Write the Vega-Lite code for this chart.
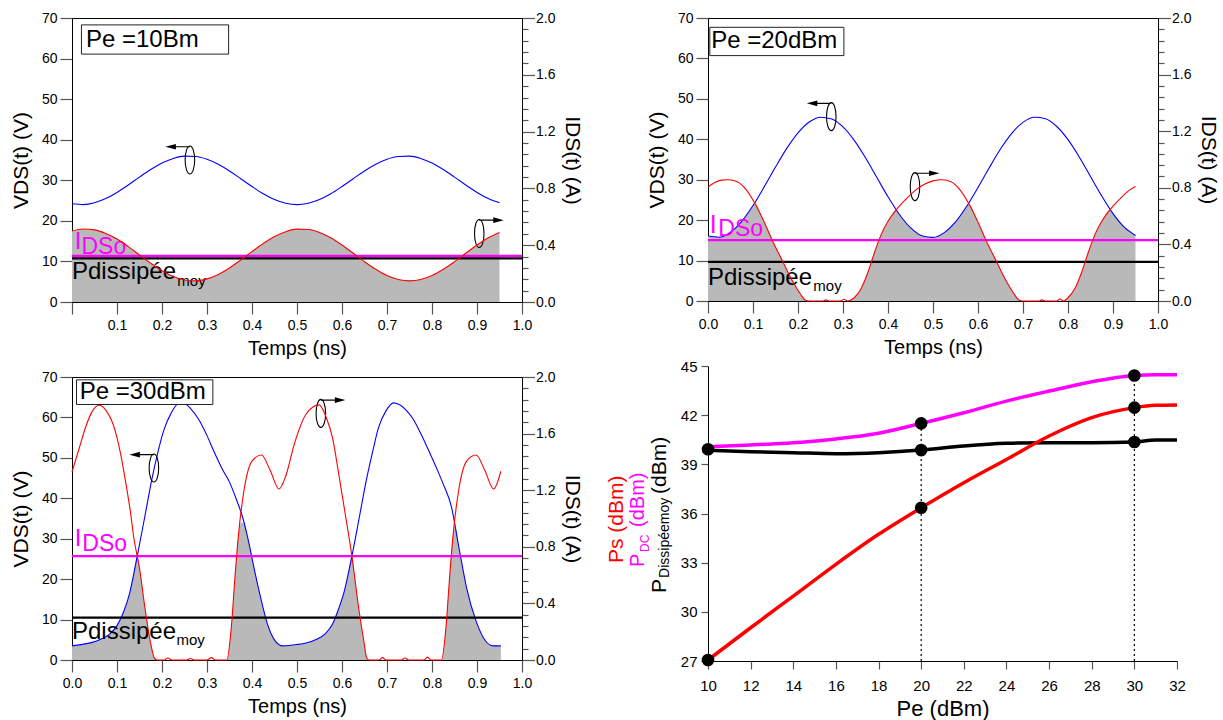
{
"$schema": "https://vega.github.io/schema/vega-lite/v6.json",
"background": "white",
"padding": {"left": 9, "top": 10, "right": 5, "bottom": 5},
"config": {
  "font": "Liberation Sans",
  "view": {"stroke": "black", "strokeWidth": 1},
  "axis": {"grid": false, "domainColor": "black", "domainWidth": 1, "tickColor": "#555", "tickWidth": 1.2, "labelFont": "Liberation Sans", "labelFontSize": 14, "labelColor": "black", "titleFont": "Liberation Sans", "titleFontSize": 21, "titleFontWeight": "normal", "titleColor": "black", "labelFlush": false, "labelOverlap": false, "labelBound": false},
  "text": {"font": "Liberation Sans"}
},
"datasets": {
"p1v": [{"t":0,"v":24.2},{"t":0.025,"v":24.01},{"t":0.05,"v":24.46},{"t":0.075,"v":25.49},{"t":0.1,"v":27.0},{"t":0.125,"v":28.83},{"t":0.15,"v":30.78},{"t":0.175,"v":32.65},{"t":0.2,"v":34.24},{"t":0.225,"v":35.38},{"t":0.25,"v":35.95},{"t":0.275,"v":35.88},{"t":0.3,"v":35.2},{"t":0.325,"v":33.95},{"t":0.35,"v":32.3},{"t":0.375,"v":30.39},{"t":0.4,"v":28.45},{"t":0.425,"v":26.66},{"t":0.45,"v":25.24},{"t":0.475,"v":24.32},{"t":0.5,"v":24.0},{"t":0.525,"v":24.32},{"t":0.55,"v":25.24},{"t":0.575,"v":26.66},{"t":0.6,"v":28.45},{"t":0.625,"v":30.39},{"t":0.65,"v":32.3},{"t":0.675,"v":33.95},{"t":0.7,"v":35.2},{"t":0.725,"v":35.88},{"t":0.75,"v":35.95},{"t":0.775,"v":35.38},{"t":0.8,"v":34.24},{"t":0.825,"v":32.65},{"t":0.85,"v":30.78},{"t":0.875,"v":28.83},{"t":0.9,"v":27.0},{"t":0.925,"v":25.49},{"t":0.95,"v":24.46}],
"p1i": [{"t":0,"i":0.5},{"t":0.025,"i":0.514},{"t":0.05,"i":0.508},{"t":0.075,"i":0.483},{"t":0.1,"i":0.443},{"t":0.125,"i":0.39},{"t":0.15,"i":0.331},{"t":0.175,"i":0.273},{"t":0.2,"i":0.22},{"t":0.225,"i":0.179},{"t":0.25,"i":0.155},{"t":0.275,"i":0.149},{"t":0.3,"i":0.163},{"t":0.325,"i":0.194},{"t":0.35,"i":0.24},{"t":0.375,"i":0.296},{"t":0.4,"i":0.355},{"t":0.425,"i":0.412},{"t":0.45,"i":0.461},{"t":0.475,"i":0.495},{"t":0.5,"i":0.513},{"t":0.525,"i":0.511},{"t":0.55,"i":0.49},{"t":0.575,"i":0.452},{"t":0.6,"i":0.401},{"t":0.625,"i":0.343},{"t":0.65,"i":0.284},{"t":0.675,"i":0.23},{"t":0.7,"i":0.186},{"t":0.725,"i":0.158},{"t":0.75,"i":0.149},{"t":0.775,"i":0.158},{"t":0.8,"i":0.186},{"t":0.825,"i":0.23},{"t":0.85,"i":0.284},{"t":0.875,"i":0.343},{"t":0.9,"i":0.401},{"t":0.925,"i":0.452},{"t":0.95,"i":0.49}],
"p1g": [{"t":0,"g":17.51},{"t":0.025,"g":17.99},{"t":0.05,"g":17.78},{"t":0.075,"g":16.92},{"t":0.1,"g":15.5},{"t":0.125,"g":13.66},{"t":0.15,"g":11.6},{"t":0.175,"g":9.54},{"t":0.2,"g":7.7},{"t":0.225,"g":6.28},{"t":0.25,"g":5.42},{"t":0.275,"g":5.21},{"t":0.3,"g":5.69},{"t":0.325,"g":6.79},{"t":0.35,"g":8.4},{"t":0.375,"g":10.35},{"t":0.4,"g":12.44},{"t":0.425,"g":14.43},{"t":0.45,"g":16.12},{"t":0.475,"g":17.34},{"t":0.5,"g":17.94},{"t":0.525,"g":17.88},{"t":0.55,"g":17.14},{"t":0.575,"g":15.82},{"t":0.6,"g":14.05},{"t":0.625,"g":12.02},{"t":0.65,"g":9.94},{"t":0.675,"g":8.04},{"t":0.7,"g":6.52},{"t":0.725,"g":5.54},{"t":0.75,"g":5.2},{"t":0.775,"g":5.54},{"t":0.8,"g":6.52},{"t":0.825,"g":8.04},{"t":0.85,"g":9.94},{"t":0.875,"g":12.02},{"t":0.9,"g":14.05},{"t":0.925,"g":15.82},{"t":0.95,"g":17.14}],
"p2v": [{"t":0,"v":16.12},{"t":0.025,"v":15.76},{"t":0.05,"v":17.01},{"t":0.075,"v":19.72},{"t":0.1,"v":23.61},{"t":0.125,"v":28.25},{"t":0.15,"v":33.13},{"t":0.175,"v":37.75},{"t":0.2,"v":41.6},{"t":0.225,"v":44.28},{"t":0.25,"v":45.46},{"t":0.275,"v":45.03},{"t":0.3,"v":43.06},{"t":0.325,"v":39.73},{"t":0.35,"v":35.43},{"t":0.375,"v":30.6},{"t":0.4,"v":25.77},{"t":0.425,"v":21.47},{"t":0.45,"v":18.14},{"t":0.475,"v":16.16},{"t":0.5,"v":15.74},{"t":0.525,"v":16.92},{"t":0.55,"v":19.57},{"t":0.575,"v":23.45},{"t":0.6,"v":28.07},{"t":0.625,"v":32.95},{"t":0.65,"v":37.59},{"t":0.675,"v":41.48},{"t":0.7,"v":44.19},{"t":0.725,"v":45.44},{"t":0.75,"v":45.08},{"t":0.775,"v":43.16},{"t":0.8,"v":39.9},{"t":0.825,"v":35.62},{"t":0.85,"v":30.78},{"t":0.875,"v":25.95},{"t":0.9,"v":21.62},{"t":0.925,"v":18.25},{"t":0.95,"v":16.22}],
"p2i": [{"t":0,"i":0.806},{"t":0.015,"i":0.837},{"t":0.03,"i":0.854},{"t":0.045,"i":0.857},{"t":0.065,"i":0.843},{"t":0.085,"i":0.786},{"t":0.105,"i":0.686},{"t":0.125,"i":0.557},{"t":0.145,"i":0.414},{"t":0.165,"i":0.286},{"t":0.185,"i":0.157},{"t":0.205,"i":0.051},{"t":0.215,"i":0.009},{"t":0.225,"i":0},{"t":0.255,"i":0},{"t":0.262,"i":0.008},{"t":0.27,"i":0},{"t":0.295,"i":0},{"t":0.302,"i":0.012},{"t":0.31,"i":0},{"t":0.325,"i":0.023},{"t":0.34,"i":0.086},{"t":0.355,"i":0.2},{"t":0.37,"i":0.343},{"t":0.385,"i":0.471},{"t":0.4,"i":0.563},{"t":0.42,"i":0.651},{"t":0.44,"i":0.72},{"t":0.46,"i":0.78},{"t":0.48,"i":0.823},{"t":0.5,"i":0.849},{"t":0.52,"i":0.857},{"t":0.54,"i":0.843},{"t":0.56,"i":0.786},{"t":0.58,"i":0.686},{"t":0.6,"i":0.557},{"t":0.62,"i":0.414},{"t":0.64,"i":0.286},{"t":0.66,"i":0.157},{"t":0.68,"i":0.051},{"t":0.69,"i":0.009},{"t":0.7,"i":0},{"t":0.735,"i":0},{"t":0.742,"i":0.008},{"t":0.75,"i":0},{"t":0.775,"i":0},{"t":0.782,"i":0.014},{"t":0.79,"i":0},{"t":0.8,"i":0.023},{"t":0.815,"i":0.086},{"t":0.83,"i":0.2},{"t":0.845,"i":0.343},{"t":0.86,"i":0.471},{"t":0.875,"i":0.563},{"t":0.895,"i":0.651},{"t":0.915,"i":0.72},{"t":0.935,"i":0.78},{"t":0.95,"i":0.809}],
"p2g": [{"t":0,"g":16.1},{"t":0.025,"g":15.8},{"t":0.05,"g":17.0},{"t":0.075,"g":19.7},{"t":0.1,"g":23.6},{"t":0.104,"g":24.2},{"t":0.125,"g":19.5},{"t":0.145,"g":14.5},{"t":0.165,"g":10},{"t":0.185,"g":5.5},{"t":0.205,"g":1.8},{"t":0.215,"g":0.3},{"t":0.225,"g":0},{"t":0.31,"g":0},{"t":0.325,"g":0.8},{"t":0.34,"g":3},{"t":0.355,"g":7},{"t":0.37,"g":12},{"t":0.385,"g":16.5},{"t":0.4,"g":19.7},{"t":0.419,"g":22.5},{"t":0.425,"g":21.47},{"t":0.45,"g":18.14},{"t":0.475,"g":16.16},{"t":0.5,"g":15.74},{"t":0.525,"g":16.92},{"t":0.55,"g":19.57},{"t":0.575,"g":23.45},{"t":0.58,"g":24},{"t":0.6,"g":19.5},{"t":0.62,"g":14.5},{"t":0.64,"g":10},{"t":0.66,"g":5.5},{"t":0.68,"g":1.8},{"t":0.69,"g":0.3},{"t":0.7,"g":0},{"t":0.79,"g":0},{"t":0.8,"g":0.8},{"t":0.815,"g":3},{"t":0.83,"g":7},{"t":0.845,"g":12},{"t":0.86,"g":16.5},{"t":0.875,"g":19.7},{"t":0.893,"g":22.5},{"t":0.9,"g":21.62},{"t":0.925,"g":18.25},{"t":0.95,"g":16.22}],
"p3v": [{"t":0,"v":3.5},{"t":0.02,"v":3.8},{"t":0.043,"v":4.3},{"t":0.065,"v":5.2},{"t":0.085,"v":6.5},{"t":0.1,"v":8.5},{"t":0.115,"v":12},{"t":0.128,"v":16.5},{"t":0.145,"v":25.7},{"t":0.161,"v":35},{"t":0.178,"v":45},{"t":0.19,"v":51},{"t":0.204,"v":56.8},{"t":0.22,"v":61},{"t":0.238,"v":63.5},{"t":0.25,"v":63.4},{"t":0.265,"v":62},{"t":0.281,"v":59.6},{"t":0.3,"v":55.5},{"t":0.315,"v":51.7},{"t":0.335,"v":47},{"t":0.35,"v":44},{"t":0.366,"v":39.5},{"t":0.38,"v":35},{"t":0.39,"v":30.5},{"t":0.405,"v":22.5},{"t":0.417,"v":16.5},{"t":0.434,"v":9},{"t":0.451,"v":4.8},{"t":0.468,"v":3.5},{"t":0.49,"v":3.7},{"t":0.52,"v":4.2},{"t":0.545,"v":5.2},{"t":0.562,"v":6.4},{"t":0.579,"v":8.9},{"t":0.592,"v":12.5},{"t":0.605,"v":17},{"t":0.622,"v":25.7},{"t":0.638,"v":35},{"t":0.655,"v":45},{"t":0.668,"v":51.5},{"t":0.681,"v":57.4},{"t":0.697,"v":61.5},{"t":0.715,"v":63.6},{"t":0.73,"v":63},{"t":0.745,"v":61.5},{"t":0.758,"v":59.6},{"t":0.775,"v":56},{"t":0.791,"v":52.2},{"t":0.81,"v":47.5},{"t":0.825,"v":43.5},{"t":0.843,"v":38},{"t":0.86,"v":27.7},{"t":0.877,"v":17.8},{"t":0.898,"v":9.6},{"t":0.919,"v":4.7},{"t":0.936,"v":3.5},{"t":0.953,"v":3.5}],
"p3i": [{"t":0,"i":1.329},{"t":0.015,"i":1.486},{"t":0.03,"i":1.643},{"t":0.045,"i":1.757},{"t":0.06,"i":1.8},{"t":0.075,"i":1.766},{"t":0.094,"i":1.64},{"t":0.108,"i":1.457},{"t":0.12,"i":1.243},{"t":0.13,"i":1.043},{"t":0.137,"i":0.871},{"t":0.15,"i":0.649},{"t":0.162,"i":0.371},{"t":0.175,"i":0.114},{"t":0.184,"i":0.009},{"t":0.19,"i":0},{"t":0.205,"i":0},{"t":0.213,"i":0.014},{"t":0.222,"i":0},{"t":0.255,"i":0},{"t":0.263,"i":0.011},{"t":0.272,"i":0},{"t":0.3,"i":0},{"t":0.31,"i":0.017},{"t":0.318,"i":0},{"t":0.344,"i":0},{"t":0.354,"i":0.229},{"t":0.362,"i":0.58},{"t":0.37,"i":0.886},{"t":0.383,"i":1.214},{"t":0.4,"i":1.406},{"t":0.421,"i":1.449},{"t":0.44,"i":1.343},{"t":0.46,"i":1.209},{"t":0.475,"i":1.3},{"t":0.494,"i":1.526},{"t":0.52,"i":1.737},{"t":0.549,"i":1.803},{"t":0.565,"i":1.714},{"t":0.579,"i":1.569},{"t":0.592,"i":1.329},{"t":0.605,"i":1.074},{"t":0.622,"i":0.734},{"t":0.638,"i":0.346},{"t":0.648,"i":0.143},{"t":0.655,"i":0.014},{"t":0.66,"i":0},{"t":0.682,"i":0},{"t":0.69,"i":0.017},{"t":0.698,"i":0},{"t":0.732,"i":0},{"t":0.74,"i":0.014},{"t":0.748,"i":0},{"t":0.782,"i":0},{"t":0.79,"i":0.02},{"t":0.798,"i":0},{"t":0.821,"i":0},{"t":0.831,"i":0.229},{"t":0.839,"i":0.58},{"t":0.847,"i":0.886},{"t":0.86,"i":1.214},{"t":0.877,"i":1.406},{"t":0.898,"i":1.449},{"t":0.917,"i":1.343},{"t":0.937,"i":1.209},{"t":0.953,"i":1.334}],
"p3g": [{"t":0,"g":3.5},{"t":0.02,"g":3.8},{"t":0.043,"g":4.3},{"t":0.065,"g":5.2},{"t":0.085,"g":6.5},{"t":0.1,"g":8.5},{"t":0.115,"g":12},{"t":0.128,"g":16.5},{"t":0.137,"g":21.4},{"t":0.145,"g":25.7},{"t":0.15,"g":22.7},{"t":0.162,"g":13},{"t":0.175,"g":4},{"t":0.184,"g":0.3},{"t":0.19,"g":0},{"t":0.344,"g":0},{"t":0.354,"g":8},{"t":0.362,"g":20.3},{"t":0.37,"g":31},{"t":0.376,"g":34},{"t":0.383,"g":33.7},{"t":0.39,"g":30.5},{"t":0.405,"g":22.5},{"t":0.417,"g":16.5},{"t":0.434,"g":9},{"t":0.451,"g":4.8},{"t":0.468,"g":3.5},{"t":0.49,"g":3.7},{"t":0.52,"g":4.2},{"t":0.545,"g":5.2},{"t":0.562,"g":6.4},{"t":0.579,"g":8.9},{"t":0.592,"g":12.5},{"t":0.605,"g":17},{"t":0.615,"g":22.1},{"t":0.622,"g":25.7},{"t":0.63,"g":18.9},{"t":0.638,"g":12.1},{"t":0.648,"g":5},{"t":0.655,"g":0.5},{"t":0.66,"g":0},{"t":0.821,"g":0},{"t":0.831,"g":8},{"t":0.839,"g":20.3},{"t":0.847,"g":31},{"t":0.852,"g":32.6},{"t":0.86,"g":27.7},{"t":0.877,"g":17.8},{"t":0.898,"g":9.6},{"t":0.919,"g":4.7},{"t":0.936,"g":3.5},{"t":0.953,"g":3.5}],
"a1": [{"t":0.262,"v":35.0,"dir":"L"},{"t":0.905,"v":16.9,"dir":"R"}],
"a2": [{"t":0.274,"v":45.6,"dir":"L"},{"t":0.46,"v":28.3,"dir":"R"}],
"a3": [{"t":0.182,"v":47.5,"dir":"L"},{"t":0.553,"v":61.0,"dir":"R"}],
"p4": [{"series":"PDC","pe":10,"val":40.08},{"series":"PDC","pe":12,"val":40.18},{"series":"PDC","pe":14,"val":40.32},{"series":"PDC","pe":16,"val":40.55},{"series":"PDC","pe":18,"val":40.9},{"series":"PDC","pe":20,"val":41.5},{"series":"PDC","pe":22,"val":42.15},{"series":"PDC","pe":24,"val":42.86},{"series":"PDC","pe":26,"val":43.47},{"series":"PDC","pe":28,"val":44.04},{"series":"PDC","pe":30,"val":44.42},{"series":"PDC","pe":31,"val":44.47},{"series":"PDC","pe":32,"val":44.47},
{"series":"Pdiss","pe":10,"val":39.86},{"series":"Pdiss","pe":12,"val":39.77},{"series":"Pdiss","pe":14,"val":39.71},{"series":"Pdiss","pe":16,"val":39.65},{"series":"Pdiss","pe":18,"val":39.71},{"series":"Pdiss","pe":20,"val":39.87},{"series":"Pdiss","pe":22,"val":40.12},{"series":"Pdiss","pe":24,"val":40.28},{"series":"Pdiss","pe":26,"val":40.32},{"series":"Pdiss","pe":28,"val":40.32},{"series":"Pdiss","pe":30,"val":40.36},{"series":"Pdiss","pe":31,"val":40.48},{"series":"Pdiss","pe":32,"val":40.48},
{"series":"Ps","pe":10,"val":27.06},{"series":"Ps","pe":12,"val":29.03},{"series":"Ps","pe":14,"val":30.96},{"series":"Ps","pe":16,"val":32.9},{"series":"Ps","pe":18,"val":34.73},{"series":"Ps","pe":20,"val":36.35},{"series":"Ps","pe":22,"val":37.88},{"series":"Ps","pe":24,"val":39.3},{"series":"Ps","pe":26,"val":40.73},{"series":"Ps","pe":28,"val":41.85},{"series":"Ps","pe":30,"val":42.46},{"series":"Ps","pe":31,"val":42.6},{"series":"Ps","pe":32,"val":42.62}],
"p4r": [{"pe":20,"lo":27,"hi":41.5},{"pe":30,"lo":27,"hi":44.42}],
"p4d": [{"pe":10,"val":27.06},{"pe":10,"val":39.92},{"pe":20,"val":41.5},{"pe":20,"val":39.87},{"pe":20,"val":36.35},{"pe":30,"val":44.42},{"pe":30,"val":42.46},{"pe":30,"val":40.36}]
},
"hconcat": [
 {"vconcat": [
  {"width": 450, "height": 284,
   "layer": [
    {"layer": [
     {"data": {"name": "p1g"}, "mark": {"type": "area", "color": "#b9b9b9", "interpolate": "monotone"},
      "encoding": {
       "x": {"field": "t", "type": "quantitative", "scale": {"domain": [0, 1], "nice": false},
             "axis": {"values": [0,0.05,0.1,0.15,0.2,0.25,0.3,0.35,0.4,0.45,0.5,0.55,0.6,0.65,0.7,0.75,0.8,0.85,0.9,0.95,1], "labelExpr": "datum.value > 0.01 && round(datum.value*100)%10==0 ? format(datum.value,'.1f') : ''", "tickSize": {"condition": {"test": "round(datum.value*100)%10==0", "value": 12}, "value": 6}, "labelPadding": 4, "title": "Temps (ns)", "titleFontSize": 20, "titlePadding": 6}},
       "y": {"field": "g", "type": "quantitative", "scale": {"domain": [0, 70], "nice": false},
             "axis": {"values": [0,5,10,15,20,25,30,35,40,45,50,55,60,65,70], "labelExpr": "datum.value%10==0 ? format(datum.value,'d') : ''", "tickSize": {"condition": {"test": "datum.value%10==0", "value": 12}, "value": 6}, "labelPadding": 3, "title": "VDS(t) (V)", "titlePadding": 10}}}},
     {"data": {"name": "p1v"}, "mark": {"type": "line", "color": "#0000ff", "strokeWidth": 1.1, "interpolate": "monotone"},
      "encoding": {"x": {"field": "t", "type": "quantitative"}, "y": {"field": "v", "type": "quantitative"}}},
     {"data": {"values": [{}]}, "mark": {"type": "rule", "color": "#ff00ff", "strokeWidth": 2.2}, "encoding": {"y": {"datum": 11.37, "type": "quantitative"}}},
     {"data": {"values": [{}]}, "mark": {"type": "rule", "color": "#000000", "strokeWidth": 2.2}, "encoding": {"y": {"datum": 10.77, "type": "quantitative"}}},
     {"data": {"values": [{}]}, "mark": {"type": "rect", "fill": "white", "stroke": "#222", "strokeWidth": 1}, "encoding": {"x": {"datum": 0.021, "type": "quantitative"}, "x2": {"datum": 0.348}, "y": {"datum": 68.3, "type": "quantitative"}, "y2": {"datum": 61.1}}},
     {"data": {"values": [{}]}, "mark": {"type": "text", "text": "Pe =10Bm", "fontSize": 24, "align": "left", "baseline": "middle", "color": "black"}, "encoding": {"x": {"datum": 0.031, "type": "quantitative"}, "y": {"datum": 64.6, "type": "quantitative"}}},
     {"data": {"values": [{}]}, "mark": {"type": "text", "text": "I", "fontSize": 24, "align": "left", "baseline": "alphabetic", "color": "#ff00ff"}, "encoding": {"x": {"datum": 0.006, "type": "quantitative"}, "y": {"datum": 13.1, "type": "quantitative"}}},
     {"data": {"values": [{}]}, "mark": {"type": "text", "text": "DSo", "fontSize": 23, "align": "left", "baseline": "alphabetic", "color": "#ff00ff"}, "encoding": {"x": {"datum": 0.021, "type": "quantitative"}, "y": {"datum": 11.9, "type": "quantitative"}}},
     {"data": {"values": [{}]}, "mark": {"type": "text", "text": "Pdissipée", "fontSize": 24, "align": "left", "baseline": "alphabetic", "color": "black"}, "encoding": {"x": {"datum": 0.0, "type": "quantitative"}, "y": {"datum": 5.7, "type": "quantitative"}}},
     {"data": {"values": [{}]}, "mark": {"type": "text", "text": "moy", "fontSize": 15, "align": "left", "baseline": "alphabetic", "color": "black"}, "encoding": {"x": {"datum": 0.234, "type": "quantitative"}, "y": {"datum": 4.0, "type": "quantitative"}}},
     {"data": {"name": "a1"}, "mark": {"type": "point", "filled": false, "size": 784, "color": "black", "strokeWidth": 1.1, "opacity": 1},
      "encoding": {"x": {"field": "t", "type": "quantitative"}, "y": {"field": "v", "type": "quantitative"}, "shape": {"field": "dir", "type": "nominal", "scale": {"domain": ["L","R"], "range": ["M0,-1A0.34,1,0,1,1,0,1A0.34,1,0,1,1,0,-1M0,-0.95L-1.2,-0.95", "M0,-1A0.34,1,0,1,1,0,1A0.34,1,0,1,1,0,-1M0,-0.95L1.2,-0.95"]}, "legend": null}}},
     {"data": {"name": "a1"}, "mark": {"type": "point", "filled": true, "size": 784, "color": "black", "opacity": 1},
      "encoding": {"x": {"field": "t", "type": "quantitative"}, "y": {"field": "v", "type": "quantitative"}, "shape": {"field": "dir", "type": "nominal", "scale": {"domain": ["L","R"], "range": ["M-1.75,-0.95L-1.0,-1.15L-1.0,-0.75Z", "M1.75,-0.95L1.0,-1.15L1.0,-0.75Z"]}, "legend": null}}}
    ], "resolve": {"scale": {"shape": "independent"}}},
    {"layer": [
     {"data": {"name": "p1i"}, "mark": {"type": "line", "color": "#ff0000", "strokeWidth": 1.1, "interpolate": "monotone"},
      "encoding": {"x": {"field": "t", "type": "quantitative"},
       "y": {"field": "i", "type": "quantitative", "scale": {"domain": [0, 2], "nice": false},
             "axis": {"orient": "right", "values": [0,0.08,0.16,0.24,0.32,0.4,0.48,0.56,0.64,0.72,0.8,0.88,0.96,1.04,1.12,1.2,1.28,1.36,1.44,1.52,1.6,1.68,1.76,1.84,1.92,2], "labelExpr": "round(datum.value*100)%40==0 ? format(datum.value,'.1f') : ''", "tickSize": {"condition": {"test": "round(datum.value*100)%40==0", "value": 12.5}, "value": 6}, "labelPadding": 1, "title": "IDS(t) (A)", "titlePadding": 7}}}}
    ]}
   ],
   "resolve": {"scale": {"y": "independent"}}
  },
  {"width": 450, "height": 283,
   "layer": [
    {"layer": [
     {"data": {"name": "p3g"}, "mark": {"type": "area", "color": "#b9b9b9", "interpolate": "monotone"},
      "encoding": {
       "x": {"field": "t", "type": "quantitative", "scale": {"domain": [0, 1], "nice": false},
             "axis": {"values": [0,0.05,0.1,0.15,0.2,0.25,0.3,0.35,0.4,0.45,0.5,0.55,0.6,0.65,0.7,0.75,0.8,0.85,0.9,0.95,1], "labelExpr": "round(datum.value*100)%10==0 ? format(datum.value,'.1f') : ''", "tickSize": {"condition": {"test": "round(datum.value*100)%10==0", "value": 12}, "value": 6}, "labelPadding": 4, "title": "Temps (ns)", "titleFontSize": 20, "titlePadding": 6}},
       "y": {"field": "g", "type": "quantitative", "scale": {"domain": [0, 70], "nice": false},
             "axis": {"values": [0,5,10,15,20,25,30,35,40,45,50,55,60,65,70], "labelExpr": "datum.value%10==0 ? format(datum.value,'d') : ''", "tickSize": {"condition": {"test": "datum.value%10==0", "value": 12}, "value": 6}, "labelPadding": 3, "title": "VDS(t) (V)", "titlePadding": 10}}}},
     {"data": {"name": "p3v"}, "mark": {"type": "line", "color": "#0000ff", "strokeWidth": 1.1, "interpolate": "monotone"},
      "encoding": {"x": {"field": "t", "type": "quantitative"}, "y": {"field": "v", "type": "quantitative"}}},
     {"data": {"values": [{}]}, "mark": {"type": "rule", "color": "#ff00ff", "strokeWidth": 2.2}, "encoding": {"y": {"datum": 25.7, "type": "quantitative"}}},
     {"data": {"values": [{}]}, "mark": {"type": "rule", "color": "#000000", "strokeWidth": 2.2}, "encoding": {"y": {"datum": 10.46, "type": "quantitative"}}},
     {"data": {"values": [{}]}, "mark": {"type": "rect", "fill": "white", "stroke": "#222", "strokeWidth": 1}, "encoding": {"x": {"datum": 0.01, "type": "quantitative"}, "x2": {"datum": 0.313}, "y": {"datum": 69.3, "type": "quantitative"}, "y2": {"datum": 63.2}}},
     {"data": {"values": [{}]}, "mark": {"type": "text", "text": "Pe =30dBm", "fontSize": 24, "align": "left", "baseline": "middle", "color": "black"}, "encoding": {"x": {"datum": 0.017, "type": "quantitative"}, "y": {"datum": 66.3, "type": "quantitative"}}},
     {"data": {"values": [{}]}, "mark": {"type": "text", "text": "I", "fontSize": 24, "align": "left", "baseline": "alphabetic", "color": "#ff00ff"}, "encoding": {"x": {"datum": 0.006, "type": "quantitative"}, "y": {"datum": 28.2, "type": "quantitative"}}},
     {"data": {"values": [{}]}, "mark": {"type": "text", "text": "DSo", "fontSize": 23, "align": "left", "baseline": "alphabetic", "color": "#ff00ff"}, "encoding": {"x": {"datum": 0.023, "type": "quantitative"}, "y": {"datum": 27.0, "type": "quantitative"}}},
     {"data": {"values": [{}]}, "mark": {"type": "text", "text": "Pdissipée", "fontSize": 24, "align": "left", "baseline": "alphabetic", "color": "black"}, "encoding": {"x": {"datum": 0.0, "type": "quantitative"}, "y": {"datum": 5.1, "type": "quantitative"}}},
     {"data": {"values": [{}]}, "mark": {"type": "text", "text": "moy", "fontSize": 15, "align": "left", "baseline": "alphabetic", "color": "black"}, "encoding": {"x": {"datum": 0.232, "type": "quantitative"}, "y": {"datum": 3.6, "type": "quantitative"}}},
     {"data": {"name": "a3"}, "mark": {"type": "point", "filled": false, "size": 784, "color": "black", "strokeWidth": 1.1, "opacity": 1},
      "encoding": {"x": {"field": "t", "type": "quantitative"}, "y": {"field": "v", "type": "quantitative"}, "shape": {"field": "dir", "type": "nominal", "scale": {"domain": ["L","R"], "range": ["M0,-1A0.34,1,0,1,1,0,1A0.34,1,0,1,1,0,-1M0,-0.95L-1.2,-0.95", "M0,-1A0.34,1,0,1,1,0,1A0.34,1,0,1,1,0,-1M0,-0.95L1.2,-0.95"]}, "legend": null}}},
     {"data": {"name": "a3"}, "mark": {"type": "point", "filled": true, "size": 784, "color": "black", "opacity": 1},
      "encoding": {"x": {"field": "t", "type": "quantitative"}, "y": {"field": "v", "type": "quantitative"}, "shape": {"field": "dir", "type": "nominal", "scale": {"domain": ["L","R"], "range": ["M-1.75,-0.95L-1.0,-1.15L-1.0,-0.75Z", "M1.75,-0.95L1.0,-1.15L1.0,-0.75Z"]}, "legend": null}}}
    ], "resolve": {"scale": {"shape": "independent"}}},
    {"layer": [
     {"data": {"name": "p3i"}, "mark": {"type": "line", "color": "#ff0000", "strokeWidth": 1.1, "interpolate": "monotone"},
      "encoding": {"x": {"field": "t", "type": "quantitative"},
       "y": {"field": "i", "type": "quantitative", "scale": {"domain": [0, 2], "nice": false},
             "axis": {"orient": "right", "values": [0,0.08,0.16,0.24,0.32,0.4,0.48,0.56,0.64,0.72,0.8,0.88,0.96,1.04,1.12,1.2,1.28,1.36,1.44,1.52,1.6,1.68,1.76,1.84,1.92,2], "labelExpr": "round(datum.value*100)%40==0 ? format(datum.value,'.1f') : ''", "tickSize": {"condition": {"test": "round(datum.value*100)%40==0", "value": 12.5}, "value": 6}, "labelPadding": 1, "title": "IDS(t) (A)", "titlePadding": 7}}}}
    ]}
   ],
   "resolve": {"scale": {"y": "independent"}}
  }
 ], "spacing": 75, "bounds": "flush"},
 {"vconcat": [
  {"width": 450, "height": 283,
   "layer": [
    {"layer": [
     {"data": {"name": "p2g"}, "mark": {"type": "area", "color": "#b9b9b9", "interpolate": "monotone"},
      "encoding": {
       "x": {"field": "t", "type": "quantitative", "scale": {"domain": [0, 1], "nice": false},
             "axis": {"values": [0,0.05,0.1,0.15,0.2,0.25,0.3,0.35,0.4,0.45,0.5,0.55,0.6,0.65,0.7,0.75,0.8,0.85,0.9,0.95,1], "labelExpr": "round(datum.value*100)%10==0 ? format(datum.value,'.1f') : ''", "tickSize": {"condition": {"test": "round(datum.value*100)%10==0", "value": 12}, "value": 6}, "labelPadding": 4, "title": "Temps (ns)", "titleFontSize": 20, "titlePadding": 6}},
       "y": {"field": "g", "type": "quantitative", "scale": {"domain": [0, 70], "nice": false},
             "axis": {"values": [0,5,10,15,20,25,30,35,40,45,50,55,60,65,70], "labelExpr": "datum.value%10==0 ? format(datum.value,'d') : ''", "tickSize": {"condition": {"test": "datum.value%10==0", "value": 12}, "value": 6}, "labelPadding": 3, "title": "VDS(t) (V)", "titlePadding": 10}}}},
     {"data": {"name": "p2v"}, "mark": {"type": "line", "color": "#0000ff", "strokeWidth": 1.1, "interpolate": "monotone"},
      "encoding": {"x": {"field": "t", "type": "quantitative"}, "y": {"field": "v", "type": "quantitative"}}},
     {"data": {"values": [{}]}, "mark": {"type": "rule", "color": "#ff00ff", "strokeWidth": 2.2}, "encoding": {"y": {"datum": 15.05, "type": "quantitative"}}},
     {"data": {"values": [{}]}, "mark": {"type": "rule", "color": "#000000", "strokeWidth": 2.2}, "encoding": {"y": {"datum": 9.7, "type": "quantitative"}}},
     {"data": {"values": [{}]}, "mark": {"type": "rect", "fill": "white", "stroke": "#222", "strokeWidth": 1}, "encoding": {"x": {"datum": 0.004, "type": "quantitative"}, "x2": {"datum": 0.302}, "y": {"datum": 67.7, "type": "quantitative"}, "y2": {"datum": 60.7}}},
     {"data": {"values": [{}]}, "mark": {"type": "text", "text": "Pe =20dBm", "fontSize": 24, "align": "left", "baseline": "middle", "color": "black"}, "encoding": {"x": {"datum": 0.007, "type": "quantitative"}, "y": {"datum": 64.2, "type": "quantitative"}}},
     {"data": {"values": [{}]}, "mark": {"type": "text", "text": "I", "fontSize": 25, "align": "left", "baseline": "alphabetic", "color": "#ff00ff"}, "encoding": {"x": {"datum": 0.004, "type": "quantitative"}, "y": {"datum": 16.9, "type": "quantitative"}}},
     {"data": {"values": [{}]}, "mark": {"type": "text", "text": "DSo", "fontSize": 23, "align": "left", "baseline": "alphabetic", "color": "#ff00ff"}, "encoding": {"x": {"datum": 0.023, "type": "quantitative"}, "y": {"datum": 16.2, "type": "quantitative"}}},
     {"data": {"values": [{}]}, "mark": {"type": "text", "text": "Pdissipée", "fontSize": 24, "align": "left", "baseline": "alphabetic", "color": "black"}, "encoding": {"x": {"datum": 0.0, "type": "quantitative"}, "y": {"datum": 3.95, "type": "quantitative"}}},
     {"data": {"values": [{}]}, "mark": {"type": "text", "text": "moy", "fontSize": 15, "align": "left", "baseline": "alphabetic", "color": "black"}, "encoding": {"x": {"datum": 0.234, "type": "quantitative"}, "y": {"datum": 2.57, "type": "quantitative"}}},
     {"data": {"name": "a2"}, "mark": {"type": "point", "filled": false, "size": 784, "color": "black", "strokeWidth": 1.1, "opacity": 1},
      "encoding": {"x": {"field": "t", "type": "quantitative"}, "y": {"field": "v", "type": "quantitative"}, "shape": {"field": "dir", "type": "nominal", "scale": {"domain": ["L","R"], "range": ["M0,-1A0.34,1,0,1,1,0,1A0.34,1,0,1,1,0,-1M0,-0.95L-1.2,-0.95", "M0,-1A0.34,1,0,1,1,0,1A0.34,1,0,1,1,0,-1M0,-0.95L1.2,-0.95"]}, "legend": null}}},
     {"data": {"name": "a2"}, "mark": {"type": "point", "filled": true, "size": 784, "color": "black", "opacity": 1},
      "encoding": {"x": {"field": "t", "type": "quantitative"}, "y": {"field": "v", "type": "quantitative"}, "shape": {"field": "dir", "type": "nominal", "scale": {"domain": ["L","R"], "range": ["M-1.75,-0.95L-1.0,-1.15L-1.0,-0.75Z", "M1.75,-0.95L1.0,-1.15L1.0,-0.75Z"]}, "legend": null}}}
    ], "resolve": {"scale": {"shape": "independent"}}},
    {"layer": [
     {"data": {"name": "p2i"}, "mark": {"type": "line", "color": "#ff0000", "strokeWidth": 1.1, "interpolate": "monotone"},
      "encoding": {"x": {"field": "t", "type": "quantitative"},
       "y": {"field": "i", "type": "quantitative", "scale": {"domain": [0, 2], "nice": false},
             "axis": {"orient": "right", "values": [0,0.08,0.16,0.24,0.32,0.4,0.48,0.56,0.64,0.72,0.8,0.88,0.96,1.04,1.12,1.2,1.28,1.36,1.44,1.52,1.6,1.68,1.76,1.84,1.92,2], "labelExpr": "round(datum.value*100)%40==0 ? format(datum.value,'.1f') : ''", "tickSize": {"condition": {"test": "round(datum.value*100)%40==0", "value": 12.5}, "value": 6}, "labelPadding": 1, "title": "IDS(t) (A)", "titlePadding": 7}}}}
    ]}
   ],
   "resolve": {"scale": {"y": "independent"}}
  },
  {"width": 469, "height": 295, "view": {"stroke": null},
   "layer": [
    {"data": {"name": "p4r"}, "mark": {"type": "rule", "color": "black", "strokeWidth": 1.2, "strokeDash": [2, 3]},
     "encoding": {
      "x": {"field": "pe", "type": "quantitative", "scale": {"domain": [10, 32], "nice": false},
            "axis": {"values": [10,11,12,13,14,15,16,17,18,19,20,21,22,23,24,25,26,27,28,29,30,31,32], "labelExpr": "datum.value%2==0 ? format(datum.value,'d') : ''", "tickSize": {"condition": {"test": "datum.value%2==0", "value": 8}, "value": 5}, "labelPadding": 9, "labelFontSize": 15, "title": "Pe (dBm)", "titleFontSize": 22, "titlePadding": 5}},
      "y": {"field": "lo", "type": "quantitative", "scale": {"domain": [27, 45], "nice": false, "zero": false},
            "axis": {"values": [27,28.5,30,31.5,33,34.5,36,37.5,39,40.5,42,43.5,45], "labelExpr": "datum.value%3==0 ? format(datum.value,'d') : ''", "tickSize": {"condition": {"test": "datum.value%3==0", "value": 7}, "value": 4}, "labelPadding": 4, "labelFontSize": 15, "title": ""}},
      "y2": {"field": "hi"}}},
    {"data": {"name": "p4"}, "mark": {"type": "line", "strokeWidth": 3.5, "interpolate": "monotone"},
     "encoding": {"x": {"field": "pe", "type": "quantitative"}, "y": {"field": "val", "type": "quantitative"},
      "color": {"field": "series", "type": "nominal", "scale": {"domain": ["PDC", "Pdiss", "Ps"], "range": ["#ff00ff", "#000000", "#ff0000"]}, "legend": null}}},
    {"data": {"name": "p4d"}, "mark": {"type": "point", "filled": true, "size": 160, "color": "black", "opacity": 1},
     "encoding": {"x": {"field": "pe", "type": "quantitative"}, "y": {"field": "val", "type": "quantitative"}}},
    {"data": {"values": [{}]}, "mark": {"type": "text", "text": "Ps (dBm)", "fontSize": 21, "angle": 270, "align": "left", "baseline": "alphabetic", "color": "#ff0000"}, "encoding": {"x": {"datum": 6.03, "type": "quantitative"}, "y": {"datum": 32.98, "type": "quantitative"}}},
    {"data": {"values": [{}]}, "mark": {"type": "text", "text": "P", "fontSize": 20, "angle": 270, "align": "left", "baseline": "alphabetic", "color": "#ff00ff"}, "encoding": {"x": {"datum": 7.01, "type": "quantitative"}, "y": {"datum": 32.74, "type": "quantitative"}}},
    {"data": {"values": [{}]}, "mark": {"type": "text", "text": "DC", "fontSize": 12, "angle": 270, "align": "left", "baseline": "alphabetic", "color": "#ff00ff"}, "encoding": {"x": {"datum": 7.25, "type": "quantitative"}, "y": {"datum": 33.65, "type": "quantitative"}}},
    {"data": {"values": [{}]}, "mark": {"type": "text", "text": "(dBm)", "fontSize": 20, "angle": 270, "align": "left", "baseline": "alphabetic", "color": "#ff00ff"}, "encoding": {"x": {"datum": 7.01, "type": "quantitative"}, "y": {"datum": 35.18, "type": "quantitative"}}},
    {"data": {"values": [{}]}, "mark": {"type": "text", "text": "P", "fontSize": 21, "angle": 270, "align": "left", "baseline": "alphabetic", "color": "black"}, "encoding": {"x": {"datum": 8.04, "type": "quantitative"}, "y": {"datum": 31.15, "type": "quantitative"}}},
    {"data": {"values": [{}]}, "mark": {"type": "text", "text": "Dissipéemoy", "fontSize": 14, "angle": 270, "align": "left", "baseline": "alphabetic", "color": "black"}, "encoding": {"x": {"datum": 8.18, "type": "quantitative"}, "y": {"datum": 32.07, "type": "quantitative"}}},
    {"data": {"values": [{}]}, "mark": {"type": "text", "text": "(dBm)", "fontSize": 21, "angle": 270, "align": "left", "baseline": "alphabetic", "color": "black"}, "encoding": {"x": {"datum": 8.04, "type": "quantitative"}, "y": {"datum": 37.19, "type": "quantitative"}}}
   ]
  }
 ], "spacing": 65, "bounds": "flush"}
],
"spacing": 22
}
